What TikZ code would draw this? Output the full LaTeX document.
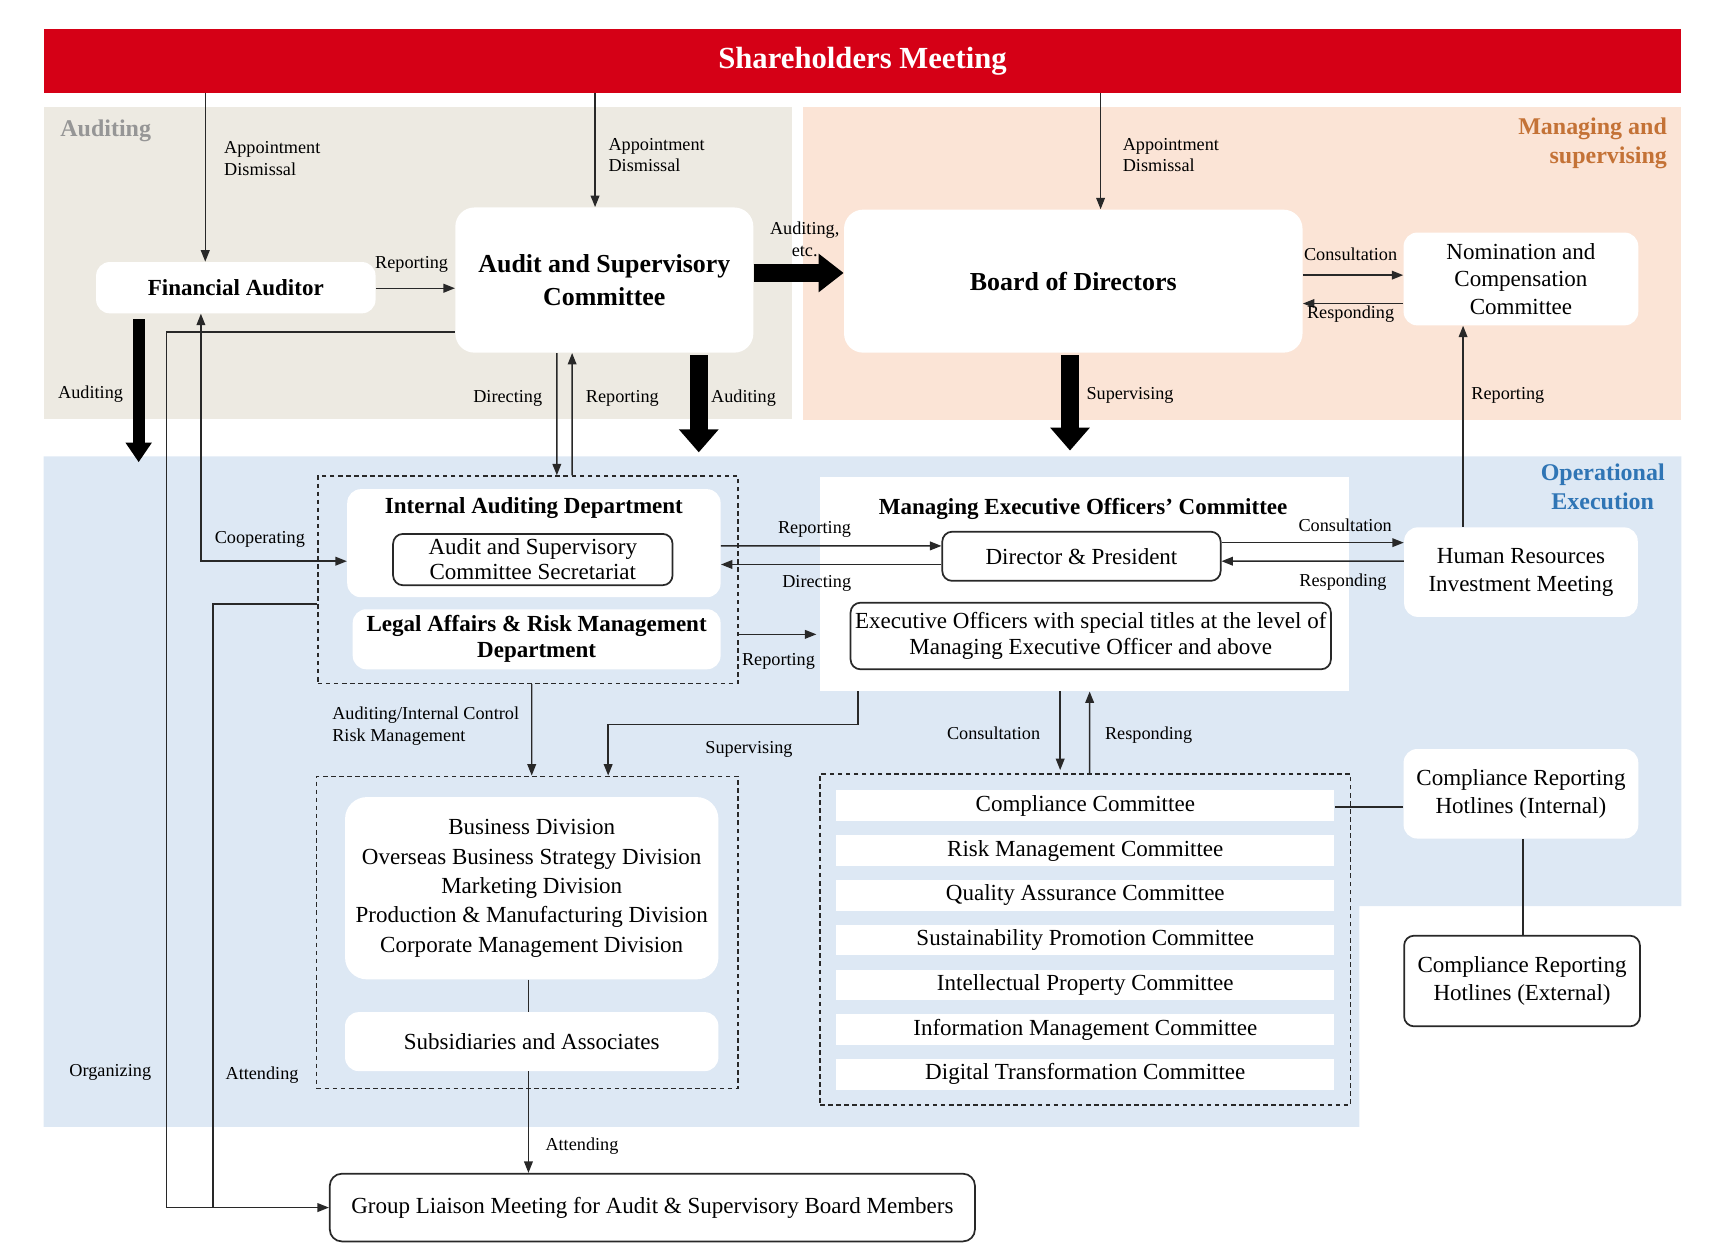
\documentclass[tikz,border=0pt]{standalone}
\usepackage{fontspec}
\setmainfont{Liberation Serif}
\usepackage{tikz}
\usetikzlibrary{calc}
\usetikzlibrary{arrows.meta}
\usepackage{xcolor}
\definecolor{sharered}{RGB}{213,0,22}
\definecolor{auditbg}{RGB}{237,234,226}
\definecolor{managebg}{RGB}{251,228,214}
\definecolor{operbg}{RGB}{221,232,244}
\definecolor{auditgray}{RGB}{150,150,150}
\definecolor{managebrown}{RGB}{196,114,54}
\definecolor{operblue}{RGB}{47,117,181}
\definecolor{linegray}{RGB}{40,40,40}
\tikzset{
  whitebox/.style={fill=white, rounded corners=2.5mm, inner sep=2pt, align=center,
    font=\fontsize{12}{14.5}\selectfont},
  framebox/.style={whitebox, draw=linegray, line width=0.9pt, rounded corners=1.8mm},
  dashbox/.style={draw=linegray, line width=0.8pt, dash pattern=on 2.4pt off 1.8pt},
  strip/.style={fill=white, minimum width=9.12cm, minimum height=0.56cm, inner sep=0pt,
    font=\fontsize{12}{14.5}\selectfont},
  lbl/.style={inner sep=0pt, align=left, font=\fontsize{9.5}{11.4}\selectfont},
  region/.style={inner sep=0pt, font=\fontsize{12.5}{15.3}\selectfont\bfseries},
  boldtext/.style={font=\fontsize{12}{14}\selectfont\bfseries},
  bigbold/.style={font=\fontsize{13.5}{17}\selectfont\bfseries},
  arr/.style={draw=linegray, line width=0.75pt, ->},
  wire/.style={draw=linegray, line width=0.75pt},
  fat/.style={line width=3.2mm, -{Triangle[length=4.2mm,width=7mm]}},
  fatthin/.style={line width=2.2mm, -{Triangle[length=3.6mm,width=4.6mm]}},
  fathz/.style={line width=3.4mm, -{Triangle[length=4.6mm,width=6.8mm]}},
}

\begin{document}
\begin{tikzpicture}[x=0.02cm, y=-0.02cm, >={Triangle[length=2.1mm,width=1.6mm]}]
\useasboundingbox (0,0) rectangle (1568,1145);

%%%%%%%%%%%%%%%%%%%%%%%%%%%%%%%%%%%%%%%%%%%%%%%%%%%%%%%%%%%%%% Regions
\fill[auditbg] (40,98) rectangle (725,384);
\fill[managebg] (735,98) rectangle (1540,385);
\fill[operbg] (40,418) -- (1540,418) -- (1540,830) -- (1245,830) -- (1245,1032) -- (40,1032) -- cycle;

\node[fill=sharered, minimum width=30cm, minimum height=1.16cm, text=white,
  font=\fontsize{16}{19}\selectfont\bfseries] (share) at (790,56) {Shareholders Meeting};

\node[region, text=auditgray, anchor=west] (audlbl) at (55,120) {Auditing};
\node[region, text=managebrown, anchor=east, align=right] (manlbl) at (1527,131) {Managing and\\supervising};
\node[region, text=operblue, anchor=east, align=center] (oplbl) at (1525,446) {Operational\\Execution};

%%%%%%%%%%%%%%%%%%%%%%%%%%%%%%%%%%%%%%%%%%%%%%%%%%%%%%%%%%%%%% Top row
\node[whitebox, boldtext, minimum width=5.12cm, minimum height=0.94cm] (fa) at (216,263.5) {Financial Auditor};
\node[whitebox, bigbold, rounded corners=3.5mm, minimum width=5.46cm, minimum height=2.66cm] (asc) at (553.5,256.5) {Audit and Supervisory\\Committee};
\node[whitebox, bigbold, rounded corners=3.5mm, minimum width=8.4cm, minimum height=2.62cm] (bod) at (983,257.5) {Board of Directors};
\node[whitebox, minimum width=4.3cm, minimum height=1.7cm] (ncc) at (1393,255.5) {Nomination and\\Compensation\\Committee};

%%%%%%%%%%%%%%%%%%%%%%%%%%%%%%%%%%%%%%%%%%%%%%%%%%%%%%%%%%%%%% Operational
\node[dashbox, minimum width=7.7cm, minimum height=3.8cm] (audgrp) at (483.5,531) {};
\node[whitebox, minimum width=6.84cm, minimum height=1.98cm] (iad) at (489,497.5) {};
\node[inner sep=0pt, boldtext] (iadtitle) at (489,465) {Internal Auditing Department};
\node[framebox, minimum width=5.12cm, minimum height=0.94cm, inner sep=1pt,
  font=\fontsize{12}{13}\selectfont] (sec) at (488,512.5) {Audit and Supervisory\\Committee Secretariat};
\node[whitebox, minimum width=6.74cm, minimum height=1.1cm,
  font=\fontsize{12}{13.6}\selectfont\bfseries] (legal) at (491.5,585.5) {Legal Affairs \& Risk Management\\Department};

\node[fill=white, minimum width=9.7cm, minimum height=3.92cm] (meoc) at (993.5,535) {};
\node[inner sep=0pt, boldtext] (meoctitle) at (992,466) {Managing Executive Officers’ Committee};
\node[framebox, minimum width=5.1cm, minimum height=0.9cm] (dp) at (990.5,509.5) {Director \& President};
\node[framebox, minimum width=8.8cm, minimum height=1.22cm, inner xsep=1pt,
  font=\fontsize{12}{13.6}\selectfont] (eo) at (999,582.5) {Executive Officers with special titles at the level of\\Managing Executive Officer and above};

\node[whitebox, minimum width=4.28cm, minimum height=1.64cm] (hr) at (1393,524) {Human Resources\\Investment Meeting};
\node[whitebox, minimum width=4.3cm, minimum height=1.64cm] (cri) at (1393,727) {Compliance Reporting\\Hotlines (Internal)};
\node[framebox, minimum width=4.32cm, minimum height=1.66cm] (cre) at (1394,898.5) {Compliance Reporting\\Hotlines (External)};

\node[dashbox, minimum width=7.72cm, minimum height=5.72cm] (divgrp) at (483,854) {};
\node[whitebox, rounded corners=4mm, minimum width=6.84cm, minimum height=3.34cm,
  font=\fontsize{12}{15.3}\selectfont] (div) at (487,813.5) {Business Division\\Overseas Business Strategy Division\\Marketing Division\\Production \& Manufacturing Division\\Corporate Management Division};
\node[whitebox, minimum width=6.84cm, minimum height=1.08cm] (sub) at (487,954) {Subsidiaries and Associates};

\node[dashbox, minimum width=9.72cm, minimum height=6.06cm] (comgrp) at (994,860.5) {};
\foreach \name [count=\i from 0] in {Compliance, Risk Management, Quality Assurance,
  Sustainability Promotion, Intellectual Property, Information Management, Digital Transformation}
  \node[strip] (com\i) at (994,{738+41*\i}) {\name{} Committee};

\node[framebox, rounded corners=2.2mm, minimum width=11.82cm, minimum height=1.24cm] (gl) at (597.5,1106) {Group Liaison Meeting for Audit \& Supervisory Board Members};

%%%%%%%%%%%%%%%%%%%%%%%%%%%%%%%%%%%%%%%%%%%%%%%%%%%%%%%%%%%%%% Connectors, top
\draw[arr] ($(share.south -| fa.north)+(-28,0)$) -- ($(fa.north)+(-28,0)$);
\draw[arr] ($(share.south -| asc.north)+(-8.5,0)$) -- ($(asc.north)+(-8.5,0)$);
\draw[arr] ($(share.south -| bod.north)+(25,0)$) -- ($(bod.north)+(25,0)$);
\node[lbl, anchor=west] (apfa) at (205,145) {Appointment\\Dismissal};
\node[lbl, anchor=west] (apasc) at (557,142) {Appointment\\Dismissal};
\node[lbl, anchor=west] (apbod) at (1028,142) {Appointment\\Dismissal};

\draw[arr] ($(fa.east)+(0,0.5)$) -- ($(asc.west)+(0,7.5)$);
\node[lbl] (repfa) at (377,242) {Reporting};
\draw[fathz] ($(asc.east)+(0,-6.5)$) -- ($(bod.west)+(0,-7.5)$);
\node[lbl, align=center] (audetc) at (737,219) {Auditing,\\etc.};

\draw[arr] ($(bod.east)+(0,-5.5)$) -- ($(ncc.west)+(0,-3.5)$);
\draw[arr] ($(ncc.west)+(0,22.5)$) -- ($(bod.east)+(0,20.5)$);
\node[lbl] (conncc) at (1237,233) {Consultation};
\node[lbl] (resncc) at (1237,288) {Responding};

\draw[fatthin] ($(fa.south)+(-89,5)$) -- ($(fa.south)+(-89,136)$);
\node[lbl] (audfa) at (83,361) {Auditing};

\draw[arr] ($(asc.south)+(-43.5,0)$) -- ($(audgrp.north)+(26.5,0)$);
\draw[arr] ($(audgrp.north)+(40.5,0)$) -- ($(asc.south)+(-29.5,0)$);
\draw[fat] ($(asc.south)+(86.5,2)$) -- ($(audgrp.north)+(156.5,-21)$);
\node[lbl] (dirasc) at (465,365) {Directing};
\node[lbl] (repasc) at (570,365) {Reporting};
\node[lbl] (audasc) at (681,365) {Auditing};

\draw[fat] ($(bod.south)+(-3,2)$) -- ($(meoc.north)+(-13.5,-24)$);
\node[lbl] (supbod) at (1035,362) {Supervising};
\draw[arr] ($(hr.north)+(-53,0)$) -- ($(ncc.south)+(-53,0)$);
\node[lbl] (rephr) at (1381,362) {Reporting};

%%%%%%%%%%%%%%%%%%%%%%%%%%%%%%%%%%%%%%%%%%%%%%%%%%%%%%%%%%%%%% Connectors, operational
\draw[arr, <->] ($(iad.west)+(0,16.5)$) -| ($(fa.south)+(-32,0)$);
\node[lbl] (coop) at (238,494) {Cooperating};

\draw[arr] ($(asc.west)+(0,47.5)$) -| ($(gl.west)+(-149,0)$) -- (gl.west);
\draw[wire] ($(audgrp.west)+(0,22)$) -| ($(gl.west)+(-106,0)$);
\node[lbl] (orgz) at (101,982) {Organizing};
\node[lbl] (attl) at (240,985) {Attending};

\draw[arr] ($(iad.east)+(0,2.5)$) -- ($(dp.west)+(0,-9.5)$);
\draw[arr] ($(dp.west)+(0,7.5)$) -- ($(iad.east)+(0,19.5)$);
\draw[arr] ($(audgrp.east)+(0,50)$) -- ($(meoc.west)+(-3,46)$);
\node[lbl] (repiad) at (746,485) {Reporting};
\node[lbl] (diriad) at (748,534) {Directing};
\node[lbl] (replegal) at (713,606) {Reporting};

\draw[arr] ($(dp.east)+(0,-12.5)$) -- ($(hr.west)+(0,-27)$);
\draw[arr] ($(hr.west)+(0,-10)$) -- ($(dp.east)+(0,4.5)$);
\node[lbl] (conhr) at (1232,481) {Consultation};
\node[lbl] (reshr) at (1230,533) {Responding};

\draw[arr] ($(audgrp.south)+(3.5,0)$) -- ($(divgrp.north)+(4,0)$);
\node[lbl, anchor=west] (aic) at (304,665) {Auditing/Internal Control\\Risk Management};
\draw[arr] ($(meoc.south)+(-207.5,0)$) -- ($(meoc.south)+(-207.5,30)$) -| ($(divgrp.north)+(74,0)$);
\node[lbl] (supmeoc) at (686,686) {Supervising};

\draw[arr] ($(meoc.south)+(-22.5,0)$) -- ($(comgrp.north)+(-23,-3)$);
\draw[arr] ($(comgrp.north)+(4,0)$) -- ($(meoc.south)+(4.5,0)$);
\node[lbl] (concom) at (910,672) {Consultation};
\node[lbl] (rescom) at (1052,673) {Responding};

\draw[wire] ($(div.south)+(-3,0)$) -- ($(sub.north)+(-3,0)$);
\draw[arr] ($(sub.south)+(-3,0)$) -- ($(gl.north)+(-113.5,0)$);
\node[lbl] (attsub) at (533,1050) {Attending};

\draw[wire] ($(cri.west)+(0,12)$) -- ($(com0.east)+(0,1)$);
\draw[wire] ($(cri.south)+(2,0)$) -- ($(cre.north)+(1,0)$);

\end{tikzpicture}
\end{document}
